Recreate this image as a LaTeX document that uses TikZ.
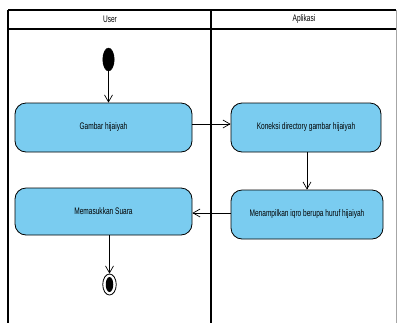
\documentclass[tikz,border=0pt]{standalone}
\usepackage{fontspec}
\setmainfont{Liberation Sans}[FakeStretch=0.69]
\usetikzlibrary{arrows.meta,shapes.geometric}
\definecolor{actfill}{RGB}{122,204,240}
\tikzset{
  act/.style={draw=black, line width=0.8pt, fill=actfill, rounded corners=11pt, font=\fontsize{9.5}{10}\selectfont},
  flow/.style={draw=black, line width=0.7pt, -{Straight Barb[length=7pt,width=8pt]}},
  lane/.style={draw=black, line width=1.5pt},
  hdr/.style={font=\fontsize{9.5}{10}\selectfont},
}
\begin{document}
\begin{tikzpicture}[x=1pt,y=-1pt]
\useasboundingbox (0,0) rectangle (398,322);
% frame
\draw[lane] (8,10) -- (396,10);
\draw[lane, line width=2.2pt] (8,29) -- (396,29);
\draw[lane] (8,10) -- (8,323);
\draw[lane] (211,10) -- (211,323);
\draw[draw=black!35, line width=0.8pt] (396.5,10) -- (396.5,323);
\node[hdr] (huser) at (110,19.5) {User};
\node[hdr] (happ) at (304,19.5) {Aplikasi};
% nodes
\node[draw=black, fill=black, ellipse, minimum width=11.5pt, minimum height=23pt, inner sep=0pt] (start) at (108.5,59.5) {};
\node[act, minimum width=177pt, minimum height=49pt] (gambar) at (103.5,127.5) {Gambar hijaiyah};
\node[act, minimum width=150pt, minimum height=49pt] (koneksi) at (306,127.5) {Koneksi directory gambar hijaiyah};
\node[act, minimum width=152pt, minimum height=49pt] (tampil) at (307,214.5) {Menampilkan iqro berupa huruf hijaiyah};
\node[act, minimum width=177pt, minimum height=47pt] (suara) at (103.5,211.5) {Memasukkan Suara};
\node[draw=black, line width=0.8pt, ellipse, minimum width=13.5pt, minimum height=21pt, inner sep=0pt] (end) at (109.5,284.5) {};
\node[fill=black, ellipse, minimum width=7.5pt, minimum height=15pt, inner sep=0pt] (endin) at (109.5,284.5) {};
% flows
\draw[flow] (start.south) -- (start.south |- gambar.north);
\draw[flow] (gambar.east |- 0,124) -- (koneksi.west |- 0,124);
\draw[flow] (koneksi.south -| 307,0) -- (tampil.north);
\draw[flow] (tampil.west |- 0,213) -- (suara.east |- 0,213);
\draw[flow] (suara.south -| 109.5,0) -- (end.north);
\end{tikzpicture}
\end{document}
